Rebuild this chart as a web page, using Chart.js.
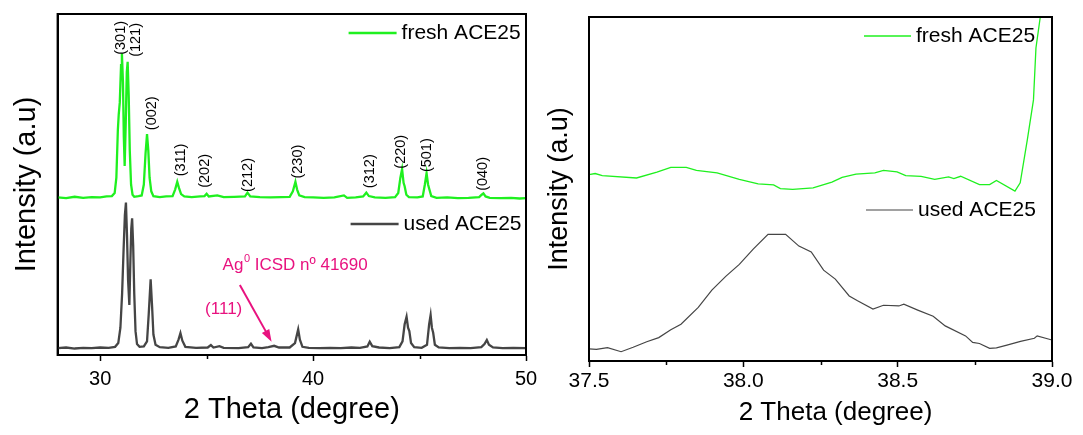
<!DOCTYPE html>
<html>
<head>
<meta charset="utf-8">
<title>XRD fresh / used ACE25</title>
<script src="https://cdn.jsdelivr.net/npm/chart.js@4.4.1/dist/chart.umd.min.js"></script>
<style>
    html, body { margin: 0; padding: 0; background: #fff; }
    #wrap { position: relative; width: 1083px; height: 435px; overflow: hidden; }
    canvas { position: absolute; top: 0; }
    #xrdFull { left: 0; }
    #xrdZoom { left: 540px; }
</style>
</head>
<body>
<div id="wrap">
    <canvas id="xrdFull" width="540" height="435"></canvas>
    <canvas id="xrdZoom" width="543" height="435"></canvas>
</div>
<script>
// ---- Left panel: full pattern 28-50 deg (intensity in arbitrary units) ----
const fullFreshTheta = [
    28.0, 28.4, 28.8, 29.2, 29.6, 30.0, 30.3, 30.55, 30.68, 30.76, 30.83, 30.87, 30.92, 30.98,
    31.02, 31.07, 31.11, 31.15, 31.2, 31.25, 31.29, 31.34, 31.39, 31.45, 31.52, 31.6, 31.8, 31.95,
    32.05, 32.13, 32.2, 32.26, 32.32, 32.4, 32.5, 32.8, 33.1, 33.4, 33.52, 33.62, 33.7, 33.8,
    33.95, 34.3, 34.7, 34.9, 35.0, 35.1, 35.5, 35.8, 36.3, 36.8, 36.92, 37.05, 37.5, 38.0, 38.5,
    38.9, 39.05, 39.17, 39.25, 39.35, 39.6, 40.0, 40.5, 41.0, 41.45, 41.6, 42.0, 42.35, 42.5,
    42.62, 42.9, 43.4, 43.85, 44.0, 44.1, 44.18, 44.25, 44.3, 44.38, 44.5, 44.9, 45.15, 45.25,
    45.33, 45.4, 45.46, 45.55, 45.8, 46.3, 46.8, 47.3, 47.8, 47.92, 48.0, 48.1, 48.3, 48.8, 49.3,
    49.7, 50.0
];
const fullFreshIntensity = [
    46.2, 46.0, 46.4, 46.1, 46.3, 46.2, 46.5, 46.6, 47.5, 52.0, 66.0, 70.4, 74.0, 85.0,
    88.5, 80.0, 64.0, 55.4, 68.0, 83.0, 86.0, 76.0, 60.0, 50.0, 47.0, 46.4, 46.6, 46.8,
    50.0, 59.0, 64.8, 60.0, 52.0, 48.0, 46.6, 46.3, 46.5, 46.6, 48.5, 50.8, 49.0, 47.2,
    46.5, 46.3, 46.5, 46.6, 47.3, 46.5, 46.8, 46.3, 46.4, 46.5, 47.6, 46.5, 46.3, 46.2, 46.3,
    46.4, 48.0, 50.8, 48.5, 46.8, 46.3, 46.2, 46.1, 46.2, 46.8, 46.1, 46.2, 46.5, 47.6,
    46.6, 46.2, 46.1, 46.3, 47.5, 52.0, 54.5, 50.5, 49.5, 47.0, 46.3, 46.2, 46.5, 50.0,
    53.3, 50.0, 48.6, 46.6, 46.1, 46.2, 46.0, 46.1, 46.3, 47.0, 47.4, 46.5, 46.1, 46.0, 46.1,
    45.9, 46.0
];
const fullUsedTheta = [
    28.0, 28.4, 28.8, 29.2, 29.6, 30.0, 30.4, 30.7, 30.85, 30.95, 31.03, 31.1, 31.16, 31.21,
    31.26, 31.31, 31.37, 31.42, 31.46, 31.5, 31.55, 31.6, 31.66, 31.73, 31.85, 32.05, 32.2,
    32.28, 32.37, 32.44, 32.5, 32.6, 32.8, 33.2, 33.55, 33.68, 33.77, 33.86, 34.0, 34.5, 35.05,
    35.2, 35.32, 35.6, 35.8, 36.5, 36.95, 37.08, 37.2, 37.6, 37.9, 38.17, 38.4, 38.9, 39.15,
    39.3, 39.38, 39.5, 39.8, 40.3, 40.8, 41.3, 41.8, 42.2, 42.55, 42.66, 42.78, 43.1, 43.6,
    44.05, 44.2, 44.3, 44.39, 44.46, 44.52, 44.6, 44.75, 45.1, 45.35, 45.45, 45.52, 45.58,
    45.64, 45.72, 45.9, 46.4, 46.9, 47.4, 47.9, 48.05, 48.16, 48.26, 48.45, 48.9, 49.4, 50.0
];
const fullUsedIntensity = [
    2.0, 2.2, 1.9, 2.1, 2.0, 2.2, 2.1, 2.4, 3.5, 8.0, 18.0, 31.0, 41.0, 44.7,
    35.0, 22.0, 14.7, 28.0, 37.0, 40.1, 32.0, 18.0, 7.0, 3.2, 2.4, 2.5, 4.0,
    12.0, 22.2, 14.0, 6.0, 3.0, 2.3, 2.1, 2.5, 4.5, 6.4, 4.2, 2.4, 2.1, 2.2,
    2.9, 2.2, 2.6, 2.1, 2.0, 2.3, 3.3, 2.2, 2.0, 2.3, 2.7, 2.2, 2.2, 3.5,
    7.5, 4.5, 2.4, 2.1, 2.0, 2.1, 2.0, 2.2, 2.1, 2.5, 3.9, 2.6, 2.2, 2.0,
    2.3, 4.0, 9.0, 11.2, 8.0, 7.0, 3.5, 2.3, 2.1, 3.0, 9.0, 11.7, 8.0,
    6.5, 3.0, 2.2, 2.0, 2.1, 2.0, 2.3, 3.2, 4.4, 3.0, 2.2, 2.0, 2.1, 2.0
];
const fullMajorTicks = [30, 40, 50];
const fullMinorTicks = [35, 45];

// Miller indices written above the fresh pattern (label centre in data units)
const hklLabels = ['(301)', '(121)', '(002)', '(311)', '(202)', '(212)', '(230)', '(312)', '(220)', '(501)', '(040)'];
const hklTheta  = [30.99, 31.70, 32.44, 33.81, 34.91, 36.96, 39.28, 42.66, 44.15, 45.37, 48.0];
const hklY      = [93.0, 92.4, 70.9, 57.2, 54.0, 52.8, 56.7, 53.9, 59.6, 58.6, 53.1];

// ---- Right panel: zoom on the Ag(111) region 37.5-39 deg ----
const zoomFreshTheta = [
    37.5, 37.52, 37.543, 37.654, 37.72, 37.765, 37.815, 37.848, 37.915, 37.987, 38.048, 38.098,
    38.12, 38.16, 38.226, 38.287, 38.32, 38.365, 38.426, 38.454, 38.498, 38.526, 38.576, 38.62,
    38.665, 38.682, 38.704, 38.765, 38.798, 38.82, 38.88, 38.897, 38.92, 38.94, 38.948, 38.962,
    38.975
];
const zoomFreshIntensity = [
    54.2, 54.5, 53.9, 53.2, 54.9, 56.3, 56.3, 55.4, 54.7, 52.8, 51.5, 51.2,
    50.1, 49.9, 50.3, 52.0, 53.4, 54.3, 54.7, 55.4, 55.0, 53.9, 53.7, 52.8,
    53.5, 53.0, 53.7, 51.3, 51.3, 52.5, 49.4, 51.8, 64.3, 75.9, 91.0, 100.0,
    115.0
];
const zoomUsedTheta = [
    37.5, 37.524, 37.56, 37.604, 37.643, 37.687, 37.726, 37.765, 37.798, 37.854, 37.898, 37.943,
    37.987, 38.032, 38.08, 38.137, 38.18, 38.22, 38.26, 38.298, 38.343, 38.37, 38.42, 38.454,
    38.504, 38.52, 38.565, 38.615, 38.654, 38.72, 38.743, 38.765, 38.798, 38.82, 38.854, 38.898,
    38.943, 38.952, 39.0
];
const zoomUsedIntensity = [
    3.5, 3.4, 3.9, 2.7, 4.0, 5.6, 6.8, 9.1, 10.7, 15.6, 20.6, 24.6,
    28.1, 32.5, 36.8, 36.8, 33.4, 31.7, 26.4, 23.8, 18.9, 17.5, 15.1, 16.2,
    16.0, 16.5, 14.8, 13.0, 10.2, 7.3, 5.4, 5.1, 3.7, 3.8, 4.6, 5.7,
    6.6, 7.3, 6.1
];
const zoomMajorTicks = [37.5, 38.0, 38.5, 39.0];
const zoomMinorTicks = [37.75, 38.25, 38.75];

const seriesNames = ['fresh ACE25', 'used ACE25'];
const FRESH_COLOR = '#1ff01f';
const USED_COLOR = '#454545';
const ANNOT_COLOR = '#e8127f';
const FONT = '"Liberation Sans", Arial, Helvetica, sans-serif';

const toPoints = (xs, ys) => xs.map((v, i) => ({ x: v, y: ys[i] }));

// Frame, minor ticks, in-plot legend and text annotations
const decorations = {
    id: 'decorations',
    afterDatasetsDraw(chart, args, opts) {
        const { ctx, chartArea: a, scales: { x, y } } = chart;
        ctx.save();

        // closed box round the plot
        ctx.strokeStyle = '#000';
        ctx.lineWidth = opts.frameWidth;
        ctx.strokeRect(a.left, a.top, a.right - a.left, a.bottom - a.top);

        // minor ticks on the bottom axis
        ctx.lineWidth = 1.5;
        (opts.minorTicks || []).forEach(v => {
            const px = Math.round(x.getPixelForValue(v)) + 0.5;
            ctx.beginPath();
            ctx.moveTo(px, a.bottom);
            ctx.lineTo(px, a.bottom + 4);
            ctx.stroke();
        });

        // x axis title drawn here when it is not centred on the plot
        if (opts.xTitle) {
            ctx.font = `${opts.xTitle.size}px ${FONT}`;
            ctx.fillStyle = '#000';
            ctx.textAlign = 'center';
            ctx.textBaseline = 'middle';
            ctx.fillText(opts.xTitle.text, (a.left + a.right) / 2 + opts.xTitle.dx, opts.xTitle.y);
        }

        // legend entries placed inside the plot
        ctx.font = `${opts.legendFont}px ${FONT}`;
        ctx.textBaseline = 'middle';
        ctx.textAlign = 'left';
        (opts.legend || []).forEach(item => {
            const x0 = a.left + item.dx;
            const y0 = a.top + item.dy;
            ctx.strokeStyle = item.color;
            ctx.lineWidth = item.width;
            ctx.beginPath();
            ctx.moveTo(x0, y0);
            ctx.lineTo(x0 + opts.legendLine, y0);
            ctx.stroke();
            ctx.fillStyle = '#000';
            ctx.fillText(item.label, x0 + opts.legendLine + 5, y0);
        });

        // rotated Miller indices
        if (opts.hkl) {
            ctx.font = `14.5px ${FONT}`;
            ctx.fillStyle = '#000';
            ctx.textAlign = 'center';
            opts.hkl.labels.forEach((lab, i) => {
                ctx.save();
                ctx.translate(x.getPixelForValue(opts.hkl.theta[i]), y.getPixelForValue(opts.hkl.y[i]));
                ctx.rotate(-Math.PI / 2);
                ctx.fillText(lab, 0, 0);
                ctx.restore();
            });
        }

        // Ag0 reference note with arrow
        if (opts.silver) {
            const s = opts.silver;
            ctx.fillStyle = ANNOT_COLOR;
            ctx.strokeStyle = ANNOT_COLOR;
            ctx.textAlign = 'left';
            let tx = x.getPixelForValue(s.textAt[0]);
            const ty = y.getPixelForValue(s.textAt[1]);
            ctx.font = `17px ${FONT}`;
            ctx.fillText('Ag', tx, ty);
            tx += ctx.measureText('Ag').width;
            ctx.font = `11px ${FONT}`;
            ctx.fillText('0', tx + 0.5, ty - 6);
            tx += ctx.measureText('0').width + 0.5;
            ctx.font = `17px ${FONT}`;
            ctx.fillText(' ICSD n\u00BA 41690', tx, ty);

            ctx.textAlign = 'center';
            ctx.fillText('(111)', x.getPixelForValue(s.hklAt[0]), y.getPixelForValue(s.hklAt[1]));

            const x1 = x.getPixelForValue(s.arrowFrom[0]), y1 = y.getPixelForValue(s.arrowFrom[1]);
            const x2 = x.getPixelForValue(s.arrowTo[0]), y2 = y.getPixelForValue(s.arrowTo[1]);
            const ang = Math.atan2(y2 - y1, x2 - x1);
            const head = 13;
            ctx.lineWidth = 2;
            ctx.beginPath();
            ctx.moveTo(x1, y1);
            ctx.lineTo(x2 - head * 0.8 * Math.cos(ang), y2 - head * 0.8 * Math.sin(ang));
            ctx.stroke();
            ctx.beginPath();
            ctx.moveTo(x2, y2);
            ctx.lineTo(x2 - head * Math.cos(ang - 0.33), y2 - head * Math.sin(ang - 0.33));
            ctx.lineTo(x2 - head * Math.cos(ang + 0.33), y2 - head * Math.sin(ang + 0.33));
            ctx.closePath();
            ctx.fill();
        }
        ctx.restore();
    }
};

function buildOptions(cfg) {
    return {
        responsive: false,
        animation: false,
        layout: { padding: { left: 0, right: cfg.padRight, top: cfg.padTop, bottom: 0 } },
        plugins: {
            legend: { display: false },
            tooltip: { enabled: false },
            decorations: cfg.decorations
        },
        scales: {
            x: {
                type: 'linear',
                min: cfg.xMin,
                max: cfg.xMax,
                afterBuildTicks: (scale) => { scale.ticks = cfg.majorTicks.map(v => ({ value: v })); },
                afterFit: (scale) => {
                    // fixed axis band; end labels may overhang without shrinking the plot
                    scale.height = cfg.xAxisHeight;
                    scale.paddingLeft = 0;
                    scale.paddingRight = 0;
                },
                ticks: {
                    color: '#000',
                    padding: cfg.tickPad,
                    maxRotation: 0,
                    autoSkip: false,
                    font: { family: FONT, size: cfg.tickFont },
                    callback: (v) => cfg.tickFormat(v)
                },
                grid: { drawOnChartArea: false, drawTicks: true, tickLength: 6, tickWidth: 1.5, color: '#000' },
                border: { display: true, color: '#000', width: cfg.frameWidth },
                title: {
                    display: cfg.xTitleFont > 0,
                    text: '2 Theta (degree)',
                    color: '#000',
                    font: { family: FONT, size: cfg.xTitleFont || 12 },
                    padding: { top: 0, bottom: cfg.xTitlePad }
                }
            },
            y: {
                type: 'linear',
                min: 0,
                max: 100,
                afterFit: (scale) => { scale.width = cfg.yAxisWidth; },
                ticks: { display: false },
                grid: { display: false },
                border: { display: true, color: '#000', width: cfg.frameWidth },
                title: {
                    display: true,
                    text: 'Intensity (a.u)',
                    color: '#000',
                    font: { family: FONT, size: cfg.yTitleFont },
                    padding: { top: cfg.yTitlePad, bottom: 0 }
                }
            }
        }
    };
}

new Chart(document.getElementById('xrdFull').getContext('2d'), {
    type: 'line',
    data: {
        datasets: [
            { label: seriesNames[0], data: toPoints(fullFreshTheta, fullFreshIntensity), borderColor: FRESH_COLOR, borderWidth: 2.3, pointRadius: 0, tension: 0 },
            { label: seriesNames[1], data: toPoints(fullUsedTheta, fullUsedIntensity), borderColor: USED_COLOR, borderWidth: 2.3, pointRadius: 0, tension: 0 }
        ]
    },
    options: buildOptions({
        xMin: 28, xMax: 50, majorTicks: fullMajorTicks,
        tickFormat: (v) => String(v),
        padRight: 14, padTop: 14, xAxisHeight: 80, yAxisWidth: 57.6,
        tickFont: 20, tickPad: 6, xTitleFont: 29, yTitleFont: 29, xTitlePad: 7.5, yTitlePad: 10, frameWidth: 2,
        decorations: {
            frameWidth: 2,
            minorTicks: fullMinorTicks,
            legendFont: 21,
            legendLine: 48,
            legend: [
                { label: seriesNames[0], color: FRESH_COLOR, width: 2.3, dx: 291, dy: 19 },
                { label: seriesNames[1], color: USED_COLOR, width: 2.3, dx: 293, dy: 210 }
            ],
            hkl: { labels: hklLabels, theta: hklTheta, y: hklY },
            silver: {
                textAt: [35.75, 26.4],
                hklAt: [35.8, 13.4],
                arrowFrom: [36.56, 20.5],
                arrowTo: [38.05, 3.9]
            }
        }
    }),
    plugins: [decorations]
});

new Chart(document.getElementById('xrdZoom').getContext('2d'), {
    type: 'line',
    data: {
        datasets: [
            { label: seriesNames[0], data: toPoints(zoomFreshTheta, zoomFreshIntensity), borderColor: FRESH_COLOR, borderWidth: 1.3, pointRadius: 0, tension: 0 },
            { label: seriesNames[1], data: toPoints(zoomUsedTheta, zoomUsedIntensity), borderColor: USED_COLOR, borderWidth: 1.2, pointRadius: 0, tension: 0 }
        ]
    },
    options: buildOptions({
        xMin: 37.5, xMax: 39.0, majorTicks: zoomMajorTicks,
        tickFormat: (v) => v.toFixed(1),
        padRight: 31, padTop: 17, xAxisHeight: 74, yAxisWidth: 49,
        tickFont: 21, tickPad: 2, xTitleFont: 0, yTitleFont: 27, xTitlePad: 7, yTitlePad: 3, frameWidth: 2,
        decorations: {
            frameWidth: 2,
            minorTicks: zoomMinorTicks,
            xTitle: { text: '2 Theta (degree)', size: 26, dx: 15, y: 413 },
            legendFont: 21,
            legendLine: 47,
            legend: [
                { label: seriesNames[0], color: FRESH_COLOR, width: 1.3, dx: 275, dy: 19 },
                { label: seriesNames[1], color: USED_COLOR, width: 1.2, dx: 277, dy: 193 }
            ]
        }
    }),
    plugins: [decorations]
});
</script>
</body>
</html>
